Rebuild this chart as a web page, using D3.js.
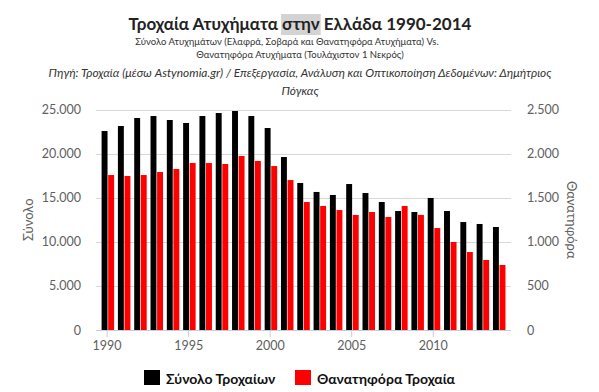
<!DOCTYPE html>
<html>
<head>
<meta charset="utf-8">
<script src="https://cdn.jsdelivr.net/npm/d3@7"></script>
<style>
  body { margin: 0; background: #fff; }
  svg { font-family: Lato, "Open Sans", sans-serif; }
</style>
</head>
<body>
<div id="chart"></div>
<script>
// data
const years = [1990, 1991, 1992, 1993, 1994, 1995, 1996, 1997, 1998, 1999, 2000, 2001, 2002,
  2003, 2004, 2005, 2006, 2007, 2008, 2009, 2010, 2011, 2012, 2013, 2014];
const totalAccidents = [22560, 23130, 24040, 24260, 23810, 23470, 24260, 24600, 24830, 24260,
  22900, 19610, 16670, 15650, 15310, 16550, 15530, 14510, 13490, 13380, 14970, 13490, 12240, 12020, 11680];
const fatalAccidents = [1757, 1746, 1757, 1791, 1825, 1893, 1893, 1882, 1973, 1916,
  1859, 1700, 1451, 1406, 1360, 1304, 1338, 1281, 1406, 1304, 1156, 998, 884, 794, 737];
const leftTicks = [0, 5000, 10000, 15000, 20000, 25000];
const rightTicks = [0, 500, 1000, 1500, 2000, 2500];
const xTicks = [1990, 1995, 2000, 2005, 2010];
const seriesNames = ["Σύνολο Τροχαίων", "Θανατηφόρα Τροχαία"];
const seriesColors = ["#000000", "#ff0000"];

const width = 599, height = 392;
const plot = ({left: 96, right: 511, top: 109.5, bottom: 330});
const fmt = v => d3.format(",")(v).replace(/,/g, ".");

const svg = d3.select("#chart").append("svg")
  .attr("width", width)
  .attr("height", height);

const x = d3.scaleLinear()
  .domain([1989.35, 2014.8])
  .range([plot.left, plot.right]);
const yLeft = d3.scaleLinear()
  .domain([0, 25000])
  .range([plot.bottom, plot.top]);
const yRight = d3.scaleLinear()
  .domain([0, 2500])
  .range([plot.bottom, plot.top]);
const sub = d3.scaleBand()
  .domain(["total", "fatal"])
  .range([-5, 7.5])
  .paddingInner(0.1);

// titles
const title = svg.append("text")
  .attr("x", 300)
  .attr("y", 30)
  .attr("text-anchor", "middle")
  .attr("font-size", 17)
  .attr("font-weight", 700)
  .attr("fill", "#222");
title.append("tspan").text("Τροχαία Ατυχήματα ");
const hl = title.append("tspan").text("στην");
title.append("tspan").text(" Ελλάδα 1990-2014");
// the grey selection box over "στην" in the screenshot
const hb = hl.node().getBBox();
svg.insert("rect", "text")
  .attr("x", hb.x - 1)
  .attr("y", 14)
  .attr("width", hb.width + 2)
  .attr("height", 21)
  .attr("fill", "#d3d3d3");

svg.append("text")
  .attr("x", 287).attr("y", 45)
  .attr("text-anchor", "middle")
  .attr("font-size", 9.5)
  .attr("fill", "#333")
  .text("Σύνολο Ατυχημάτων (Ελαφρά, Σοβαρά και Θανατηφόρα Ατυχήματα) Vs.");
svg.append("text")
  .attr("x", 300).attr("y", 58)
  .attr("text-anchor", "middle")
  .attr("font-size", 9.5)
  .attr("fill", "#333")
  .text("Θανατηφόρα Ατυχήματα (Τουλάχιστον 1 Νεκρός)");
svg.append("text")
  .attr("x", 300).attr("y", 77)
  .attr("text-anchor", "middle")
  .attr("font-size", 11.9)
  .attr("font-style", "italic")
  .attr("fill", "#333")
  .text("Πηγή: Τροχαία (μέσω Astynomia.gr) / Επεξεργασία, Ανάλυση και Οπτικοποίηση Δεδομένων: Δημήτριος");
svg.append("text")
  .attr("x", 300).attr("y", 95)
  .attr("text-anchor", "middle")
  .attr("font-size", 11.9)
  .attr("font-style", "italic")
  .attr("fill", "#333")
  .text("Πόγκας");

// grid
svg.append("g")
  .selectAll("line")
  .data(leftTicks.slice(1))
  .join("line")
    .attr("x1", plot.left)
    .attr("x2", plot.right)
    .attr("y1", d => Math.round(yLeft(d)) + 0.5)
    .attr("y2", d => Math.round(yLeft(d)) + 0.5)
    .attr("stroke", "#d8d8d8");

// left axis
svg.append("g")
  .attr("transform", `translate(${plot.left - 15},0)`)
  .call(d3.axisLeft(yLeft).tickValues(leftTicks).tickFormat(fmt).tickSize(0).tickPadding(0))
  .call(g => g.select(".domain").remove())
  .call(g => g.selectAll(".tick text")
      .attr("font-family", "Lato, sans-serif")
      .attr("font-size", 12.5)
      .attr("fill", "#606060"));

// right axis
svg.append("g")
  .attr("transform", `translate(${plot.right + 16},0)`)
  .call(d3.axisRight(yRight).tickValues(rightTicks).tickFormat(fmt).tickSize(0).tickPadding(0))
  .call(g => g.select(".domain").remove())
  .call(g => g.selectAll(".tick text")
      .attr("font-family", "Lato, sans-serif")
      .attr("font-size", 12.5)
      .attr("fill", "#606060"));

// axis titles
svg.append("text")
  .attr("transform", `translate(33,${(plot.top + plot.bottom) / 2}) rotate(-90)`)
  .attr("text-anchor", "middle")
  .attr("font-size", 13)
  .attr("fill", "#606060")
  .text("Σύνολο");
svg.append("text")
  .attr("transform", `translate(567,${(plot.top + plot.bottom) / 2}) rotate(90)`)
  .attr("text-anchor", "middle")
  .attr("font-size", 13)
  .attr("fill", "#606060")
  .text("Θανατηφόρα");

// bars
const rows = years.map((yr, i) => ({year: yr, total: totalAccidents[i], fatal: fatalAccidents[i]}));
const groups = svg.append("g")
  .selectAll("g")
  .data(rows)
  .join("g")
    .attr("transform", d => `translate(${x(d.year)},0)`);
groups.append("rect")
  .attr("x", sub("total"))
  .attr("width", sub.bandwidth())
  .attr("y", d => yLeft(d.total))
  .attr("height", d => plot.bottom - yLeft(d.total))
  .attr("fill", seriesColors[0]);
groups.append("rect")
  .attr("x", sub("fatal"))
  .attr("width", sub.bandwidth())
  .attr("y", d => yRight(d.fatal))
  .attr("height", d => plot.bottom - yRight(d.fatal))
  .attr("fill", seriesColors[1]);

// x axis
svg.append("line")
  .attr("x1", plot.left).attr("x2", plot.right)
  .attr("y1", plot.bottom + 0.5).attr("y2", plot.bottom + 0.5)
  .attr("stroke", "#c0d0e0");
svg.append("g")
  .attr("transform", `translate(0,${plot.bottom})`)
  .call(d3.axisBottom(x).tickValues(xTicks).tickFormat(d3.format("d")).tickSize(7).tickPadding(4))
  .call(g => g.select(".domain").remove())
  .call(g => g.selectAll(".tick line").attr("stroke", "#c0d0e0"))
  .call(g => g.selectAll(".tick text")
      .attr("font-family", "Lato, sans-serif")
      .attr("font-size", 12.5)
      .attr("fill", "#606060"));

// legend
const legend = svg.append("g");
const legendX = [144, 295];
seriesNames.forEach((name, i) => {
  legend.append("rect")
    .attr("x", legendX[i]).attr("y", 370)
    .attr("width", 16).attr("height", 15)
    .attr("fill", seriesColors[i]);
  legend.append("text")
    .attr("x", legendX[i] + 22).attr("y", 384)
    .attr("font-size", 14)
    .attr("font-weight", 700)
    .attr("fill", "#111")
    .text(name);
});
</script>
</body>
</html>
